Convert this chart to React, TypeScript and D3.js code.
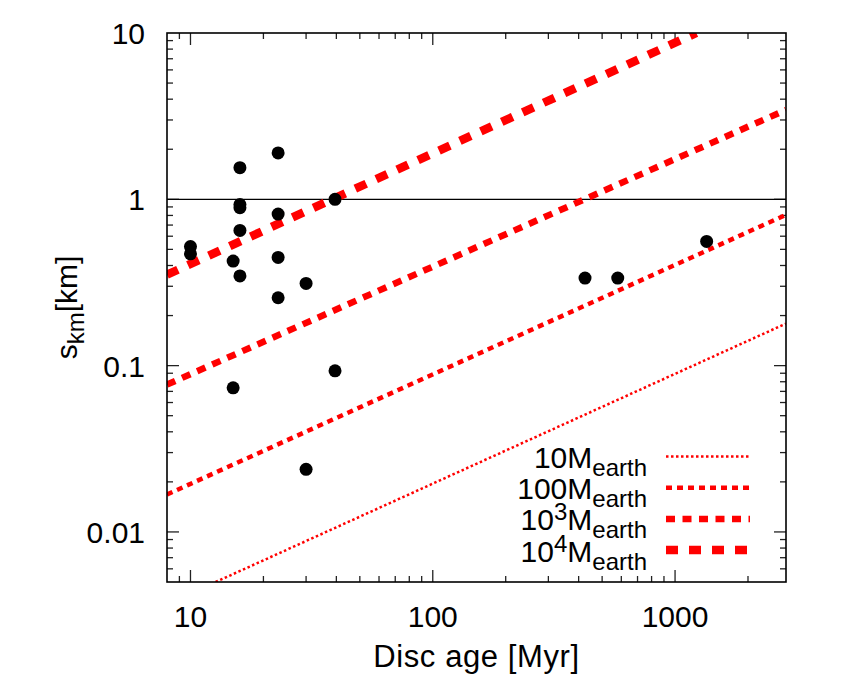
import React, { useEffect, useRef } from 'react';
import * as d3 from 'd3';

// disc ages [Myr] and planetesimal sizes [km]
const AGES = [10, 10, 15, 15, 16, 16, 16, 16, 16, 23, 23, 23, 23, 30, 30, 39.5, 39.5, 425, 580, 1350];
const SIZES = [0.52, 0.47, 0.425, 0.0735, 1.55, 0.93, 0.89, 0.65, 0.346, 1.9, 0.815, 0.447, 0.256, 0.312, 0.0238, 1.0, 0.093, 0.336, 0.336, 0.558];

// model lines, one per disc mass (start / end)
const MASS_BASE = ['10', '100', '10', '10'];
const MASS_EXP = ['', '', '3', '4'];
const LINE_START: [number, number][] = [[12.7, 0.005], [8, 0.0168], [8, 0.0769], [8, 0.352]];
const LINE_END: [number, number][] = [[2870, 0.179], [2870, 0.807], [2870, 3.45], [1224, 10]];

const X_DOMAIN = [8, 2870];
const Y_DOMAIN = [0.005, 10];
const X_LABELS = [10, 100, 1000];
const Y_LABELS = [10, 1, 0.1, 0.01];

const LINE_W = [2.5, 4.5, 6.5, 8.5];
const LINE_DASH = ['2.5,2.5', '6,5', '9,7.5', '12,11'];

const W = 855;
const H = 684;
const MARGIN = { top: 33, right: 69, bottom: 102, left: 167 };
const FONT = '"Liberation Sans", Arial, Helvetica, sans-serif';

export default function App() {
  const svgRef = useRef<SVGSVGElement>(null);

  useEffect(() => {
    const svg = d3.select(svgRef.current);
    svg.selectAll('*').remove();

    const x0 = MARGIN.left, x1 = W - MARGIN.right;
    const y0 = MARGIN.top, y1 = H - MARGIN.bottom;

    const x = d3.scaleLog().domain(X_DOMAIN).range([x0, x1]);
    const y = d3.scaleLog().domain(Y_DOMAIN).range([y1, y0]);

    svg.append('rect').attr('width', W).attr('height', H).attr('fill', '#fff');

    svg.append('defs').append('clipPath').attr('id', 'plot-clip')
      .append('rect').attr('x', x0).attr('y', y0).attr('width', x1 - x0).attr('height', y1 - y0);

    const isMajor = (v: number) => Math.abs(Math.log10(v) - Math.round(Math.log10(v))) < 1e-6;

    // ticks on all four sides
    const tickG = svg.append('g').attr('stroke', '#222').attr('stroke-width', 1.3);
    x.ticks().filter(v => v > X_DOMAIN[0] * 1.001 && v < X_DOMAIN[1] * 0.999).forEach(v => {
      const len = isMajor(v) ? 12 : 6;
      const px = x(v);
      tickG.append('line').attr('x1', px).attr('x2', px).attr('y1', y1).attr('y2', y1 - len);
      tickG.append('line').attr('x1', px).attr('x2', px).attr('y1', y0).attr('y2', y0 + len);
    });
    y.ticks().filter(v => v > Y_DOMAIN[0] * 1.001 && v < Y_DOMAIN[1] * 0.999).forEach(v => {
      const len = isMajor(v) ? 12 : 6;
      const py = y(v);
      tickG.append('line').attr('x1', x0).attr('x2', x0 + len).attr('y1', py).attr('y2', py);
      tickG.append('line').attr('x1', x1).attr('x2', x1 - len).attr('y1', py).attr('y2', py);
    });

    // s = 1 km reference
    svg.append('line')
      .attr('x1', x0).attr('x2', x1)
      .attr('y1', y(1)).attr('y2', y(1))
      .attr('stroke', '#000').attr('stroke-width', 1.2);

    // model lines
    const lines = svg.append('g').attr('clip-path', 'url(#plot-clip)');
    LINE_START.forEach((s, i) => {
      const e = LINE_END[i];
      lines.append('line')
        .attr('x1', x(s[0])).attr('y1', y(s[1]))
        .attr('x2', x(e[0])).attr('y2', y(e[1]))
        .attr('stroke', '#ff0000')
        .attr('stroke-width', LINE_W[i])
        .attr('stroke-dasharray', LINE_DASH[i]);
    });

    // data points
    svg.append('g').selectAll('circle')
      .data(AGES.map((a, i) => [a, SIZES[i]]))
      .join('circle')
      .attr('cx', d => x(d[0]))
      .attr('cy', d => y(d[1]))
      .attr('r', 6.5)
      .attr('fill', '#000');

    // frame
    svg.append('rect')
      .attr('x', x0).attr('y', y0).attr('width', x1 - x0).attr('height', y1 - y0)
      .attr('fill', 'none').attr('stroke', '#000').attr('stroke-width', 1.6);

    // tick labels
    X_LABELS.forEach(v => {
      svg.append('text')
        .attr('x', x(v)).attr('y', 627)
        .attr('text-anchor', 'middle')
        .style('font-family', FONT).style('font-size', '30px')
        .text(v);
    });
    Y_LABELS.forEach(v => {
      svg.append('text')
        .attr('x', 145).attr('y', y(v) + 11)
        .attr('text-anchor', 'end')
        .style('font-family', FONT).style('font-size', '30px')
        .text(v);
    });

    // axis titles
    svg.append('text')
      .attr('x', (x0 + x1) / 2).attr('y', 667)
      .attr('text-anchor', 'middle')
      .style('font-family', FONT).style('font-size', '31px')
      .style('letter-spacing', '0.6px')
      .text('Disc age [Myr]');

    const yt = svg.append('text')
      .attr('transform', `translate(77,${(y0 + y1) / 2}) rotate(-90)`)
      .attr('text-anchor', 'middle')
      .style('font-family', FONT).style('font-size', '30px');
    yt.append('tspan').text('s');
    yt.append('tspan').attr('dy', 7).style('font-size', '24px').text('km');
    yt.append('tspan').attr('dy', -7).text('[km]');

    // legend
    MASS_BASE.forEach((b, i) => {
      const base = 468 + i * 31.2;
      const t = svg.append('text')
        .attr('x', 647).attr('y', base)
        .attr('text-anchor', 'end')
        .style('font-family', FONT).style('font-size', '30px');
      t.append('tspan').text(b);
      if (MASS_EXP[i]) {
        t.append('tspan').attr('dy', -10).style('font-size', '24px').text(MASS_EXP[i]);
        t.append('tspan').attr('dy', 10).text('M');
      } else {
        t.append('tspan').text('M');
      }
      t.append('tspan').attr('dy', 8).style('font-size', '24px').text('earth');

      svg.append('line')
        .attr('x1', 666).attr('x2', 750)
        .attr('y1', base - 11.5).attr('y2', base - 11.5)
        .attr('stroke', '#ff0000')
        .attr('stroke-width', LINE_W[i])
        .attr('stroke-dasharray', LINE_DASH[i]);
    });
  }, []);

  return (
    <svg ref={svgRef} width={W} height={H}
      style={{ position: 'absolute', left: 0, top: 0, display: 'block' }} />
  );
}
